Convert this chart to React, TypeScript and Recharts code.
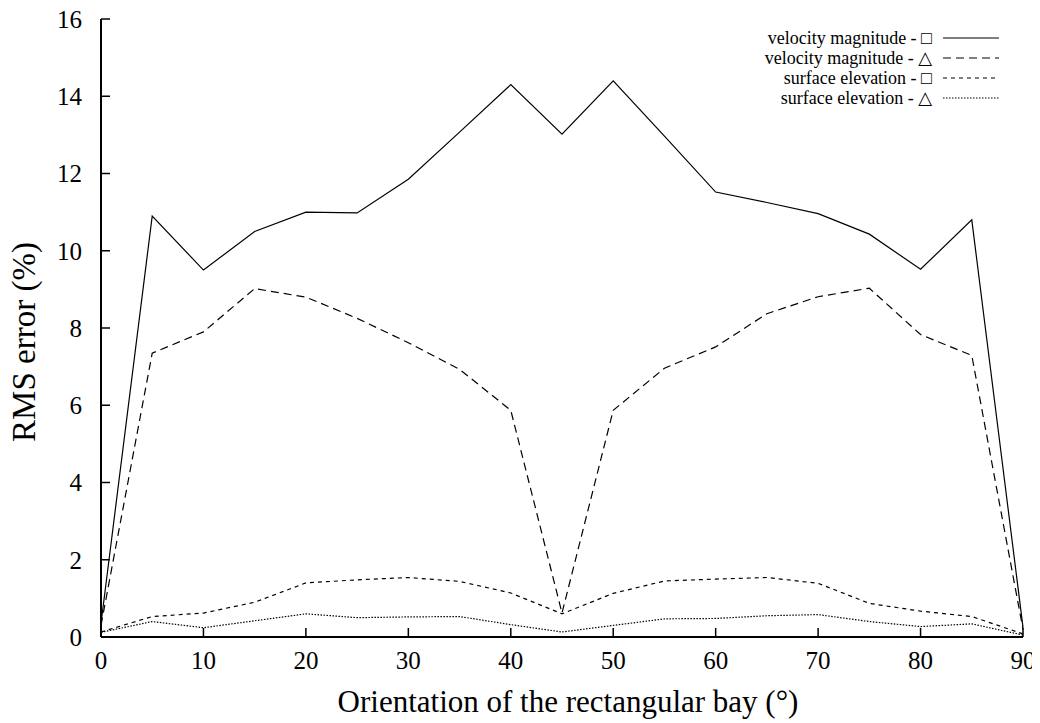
import { LineChart, Line, XAxis, YAxis, Legend } from 'recharts'

// orientation of the bay (degrees)
const angles = [0, 5, 10, 15, 20, 25, 30, 35, 40, 45, 50, 55, 60, 65, 70, 75, 80, 85, 90]

const velSquare = [0.35, 10.9, 9.5, 10.5, 11.0, 10.98, 11.85, 13.07, 14.3, 13.02, 14.4, 12.97, 11.52, 11.25, 10.96, 10.43, 9.52, 10.8, 0.25]
const velTriangle = [0.3, 7.35, 7.9, 9.02, 8.8, 8.25, 7.62, 6.93, 5.87, 0.62, 5.87, 6.96, 7.51, 8.37, 8.81, 9.03, 7.83, 7.29, 0.2]
const elevSquare = [0.13, 0.53, 0.62, 0.9, 1.4, 1.48, 1.54, 1.44, 1.14, 0.6, 1.13, 1.45, 1.5, 1.54, 1.39, 0.87, 0.67, 0.53, 0.08]
const elevTriangle = [0.12, 0.4, 0.24, 0.42, 0.6, 0.5, 0.52, 0.53, 0.32, 0.13, 0.3, 0.47, 0.48, 0.55, 0.58, 0.4, 0.27, 0.34, 0.05]

const xTicks = [0, 10, 20, 30, 40, 50, 60, 70, 80, 90]
const yTicks = [0, 2, 4, 6, 8, 10, 12, 14, 16]

const SERIES = [
  { key: 'velSquare', label: 'velocity magnitude - □', dash: undefined },
  { key: 'velTriangle', label: 'velocity magnitude - △', dash: '8 5' },
  { key: 'elevSquare', label: 'surface elevation - □', dash: '4 4' },
  { key: 'elevTriangle', label: 'surface elevation - △', dash: '1.5 1.5' },
]

const data = angles.map((a, i) => ({
  angle: a,
  velSquare: velSquare[i],
  velTriangle: velTriangle[i],
  elevSquare: elevSquare[i],
  elevTriangle: elevTriangle[i],
}))

const FONT = "'Liberation Serif', 'DejaVu Serif', serif"
const tickStyle = { fill: '#000', fontSize: 25, fontFamily: FONT }
const axisLine = { stroke: '#000', strokeWidth: 2 }
const tickLine = { stroke: '#000', strokeWidth: 1.5 }

const renderLegend = () => (
  <div style={{ fontFamily: FONT, fontSize: 18, lineHeight: '20px', color: '#000' }}>
    {SERIES.map(s => (
      <div key={s.key} style={{ display: 'flex', alignItems: 'center', height: 20 }}>
        <span style={{ width: 232, textAlign: 'right', whiteSpace: 'nowrap' }}>{s.label}</span>
        <svg width={67} height={20} style={{ display: 'block' }}>
          <line x1={11} x2={67} y1={10} y2={10} stroke="#000" strokeWidth={1.2} strokeDasharray={s.dash} />
        </svg>
      </div>
    ))}
  </div>
)

export default function App() {
  return (
    <div style={{ position: 'relative', width: 1040, height: 723, margin: '-8px 0 0 -8px' }}>
      <LineChart width={1040} height={723} data={data} margin={{ top: 19, right: 17, bottom: 0, left: 0 }}>
        <XAxis dataKey="angle" type="number" domain={[0, 90]} ticks={xTicks} height={86}
          axisLine={axisLine} tickLine={tickLine} tickSize={-9} tickMargin={23} tick={tickStyle} interval={0} />
        <XAxis xAxisId="top" orientation="top" dataKey="angle" type="number" domain={[0, 90]} ticks={xTicks} height={0}
          axisLine={axisLine} tickLine={tickLine} tickSize={-9} tick={false} interval={0} />
        <YAxis type="number" domain={[0, 16]} ticks={yTicks} width={101}
          axisLine={axisLine} tickLine={tickLine} tickSize={-9} tickMargin={28} tick={tickStyle} interval={0} />
        <YAxis yAxisId="right" orientation="right" type="number" domain={[0, 16]} ticks={yTicks} width={0}
          axisLine={axisLine} tickLine={tickLine} tickSize={-9} tick={false} interval={0} />
        <Legend layout="vertical" align="center" verticalAlign="middle" content={renderLegend}
          wrapperStyle={{ left: 700, top: 28, width: 310 }} />
        {SERIES.map(s => (
          <Line key={s.key} dataKey={s.key} type="linear" stroke="#000" strokeWidth={1.2}
            strokeDasharray={s.dash} dot={false} isAnimationActive={false} />
        ))}
      </LineChart>
      <div style={{ position: 'absolute', left: 0, right: 0, top: 684, textAlign: 'center', paddingLeft: 96,
        fontFamily: FONT, fontSize: 31, whiteSpace: 'nowrap' }}>
        Orientation of the rectangular bay (°)
      </div>
      <div style={{ position: 'absolute', left: 24, top: 342, width: 0, height: 0 }}>
        <div style={{ position: 'absolute', transform: 'translate(-50%, -50%) rotate(-90deg)',
          fontFamily: FONT, fontSize: 33, whiteSpace: 'nowrap' }}>
          RMS error (%)
        </div>
      </div>
    </div>
  )
}
